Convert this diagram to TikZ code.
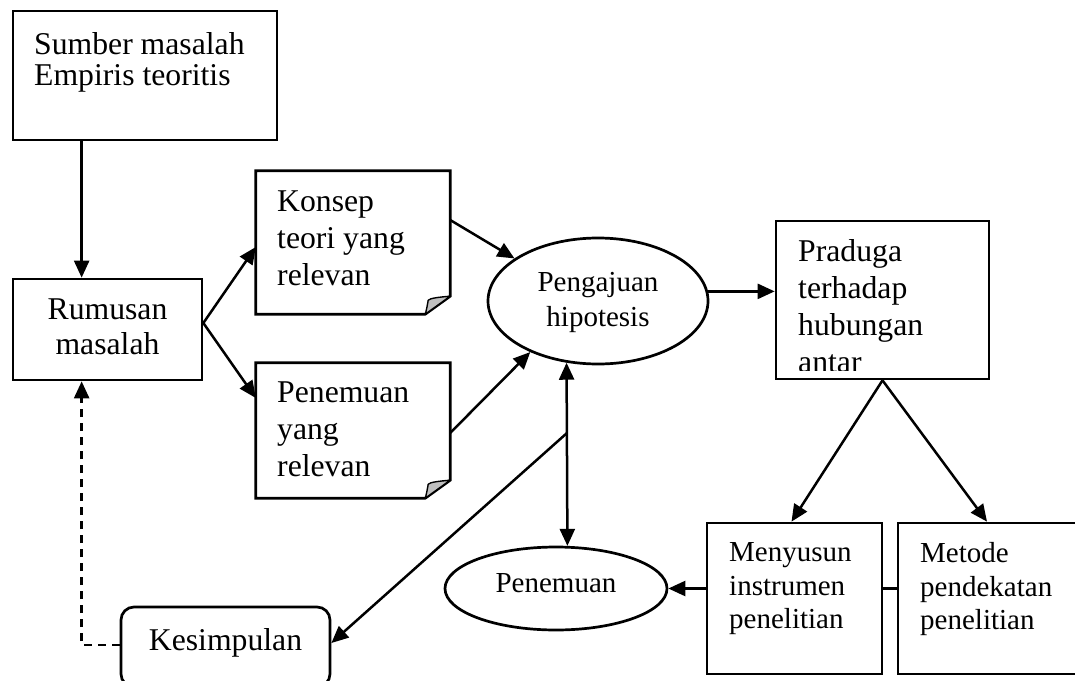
\documentclass[tikz,border=0pt]{standalone}
\usepackage{fontspec}
\setmainfont{Liberation Serif}
\usetikzlibrary{arrows.meta,shapes.geometric,calc}
\newcommand\drawnote[1]{%
  \draw[boxline] (#1.north west) -- (#1.north east) -- ($(#1.south east)+(0,-18)$) -- ($(#1.south east)+(-25,0)$) -- (#1.south west) -- cycle;
  \filldraw[line width=1.4pt, fill=black!25, line join=round] ($(#1.south east)+(0,-18)$) .. controls ($(#1.south east)+(-12,-17)$) and ($(#1.south east)+(-20,-16)$) .. ($(#1.south east)+(-22,-14)$) .. controls ($(#1.south east)+(-23,-8)$) and ($(#1.south east)+(-24,-3)$) .. ($(#1.south east)+(-25,0)$) -- cycle;}
\tikzset{
  boxline/.style={line width=2.7pt},
  box/.style={draw, rectangle, boxline, inner sep=0pt},
  notebox/.style={rectangle, inner sep=0pt},
  oval/.style={draw, ellipse, boxline, inner sep=0pt},
  big/.style={font=\fontsize{31.7}{37}\selectfont},
  small/.style={font=\fontsize{29}{33.5}\selectfont},
  txt/.style={anchor=north west, inner sep=0pt, align=left},
  arr/.style={line width=2.5pt, -{Triangle[length=17pt,width=15pt]}},
  dbl/.style={line width=2.5pt, {Triangle[length=17pt,width=15pt]}-{Triangle[length=17pt,width=15pt]}},
  dashedarr/.style={arr, dash pattern=on 8pt off 6pt},
}
\begin{document}
\begin{tikzpicture}[x=1pt,y=-1pt]
\useasboundingbox (0,0) rectangle (1075,680);

% boxes
\node[box, minimum width=264pt, minimum height=129pt] (sumber) at (145,75.5) {};
\node[txt, font=\fontsize{31.7}{31}\selectfont] (sumbertxt) at (34,32.3) {Sumber masalah\\Empiris teoritis};

\node[box, minimum width=189pt, minimum height=101pt, align=center, font=\fontsize{31.7}{35}\selectfont, text depth=5pt] (rumusan) at (107.5,329.5) {Rumusan\\masalah};

\node[notebox, minimum width=194pt, minimum height=143pt] (konsep) at (353,242.5) {};
\drawnote{konsep}
\node[txt, big] (konseptxt) at (277,190.7) {Konsep\\teori yang\\relevan};

\node[notebox, minimum width=194pt, minimum height=135pt] (penrel) at (353,430.5) {};
\drawnote{penrel}
\node[txt, big] (penreltxt) at (277,382) {Penemuan\\yang\\relevan};

\node[oval, minimum width=220pt, minimum height=126pt, align=center, font=\fontsize{29}{35}\selectfont, text depth=2.8pt] (pengajuan) at (598,301) {Pengajuan\\hipotesis};

\node[box, minimum width=213pt, minimum height=158pt] (praduga) at (882.5,300) {};
\begin{scope}
  \clip (praduga.north west) rectangle ($(praduga.south east)+(0,-10)$);
  \node[txt, big] (pradugatxt) at (798,239.3) {Praduga\\terhadap\\hubungan\\antar};
\end{scope}

\node[box, minimum width=175pt, minimum height=151pt] (menyusun) at (794.5,598.5) {};
\node[txt, small] (menyusuntxt) at (729,542.8) {Menyusun\\instrumen\\penelitian};

\node[box, minimum width=187pt, minimum height=151pt] (metode) at (991.5,598.5) {};
\node[txt, small] (metodetxt) at (920,542.2) {Metode\\pendekatan\\penelitian};

\node[oval, minimum width=222pt, minimum height=83pt, font=\fontsize{29}{33.5}\selectfont, text depth=10.2pt] (penemuan) at (556,588.5) {Penemuan};

\node[box, rounded corners=13pt, minimum width=209pt, minimum height=80pt, font=\fontsize{31.7}{37}\selectfont, text depth=15.6pt] (kesimpulan) at (225.5,647) {Kesimpulan};

% connectors
\draw[arr] ($(sumber.south west)+(70,0)$) -- ($(rumusan.north west)+(70,0)$);
\draw[arr] ($(rumusan.east)+(0,-6.5)$) -- ($(konsep.west)+(0,4.5)$);
\draw[arr] ($(rumusan.east)+(0,-6.5)$) -- ($(penrel.west)+(0,-32.5)$);
\draw[arr] ($(konsep.east)+(0,-22.5)$) -- (pengajuan.153);
\draw[arr] ($(penrel.east)+(0,2.5)$) -- (pengajuan.-143);
\draw[arr] (pengajuan.5) -- (pengajuan.5 -| praduga.west);
\draw[arr] (praduga.south) -- ($(menyusun.north)+(-3,0)$);
\draw[arr] (praduga.south) -- ($(metode.north)+(-4.5,0)$);
\draw[boxline] (penemuan.east -| menyusun.east) -- (penemuan.east -| metode.west);
\draw[arr] (penemuan.east -| menyusun.west) -- (penemuan.east);
\draw[dbl] (pengajuan.-117) -- (penemuan.75);
\coordinate (mid) at (567,433);
\draw[arr] (mid) -- ($(kesimpulan.east)+(0,-4)$);
\draw[dashedarr] ($(kesimpulan.west)+(0,-2)$) -| ($(rumusan.south west)+(70,0)$);
\end{tikzpicture}
\end{document}
